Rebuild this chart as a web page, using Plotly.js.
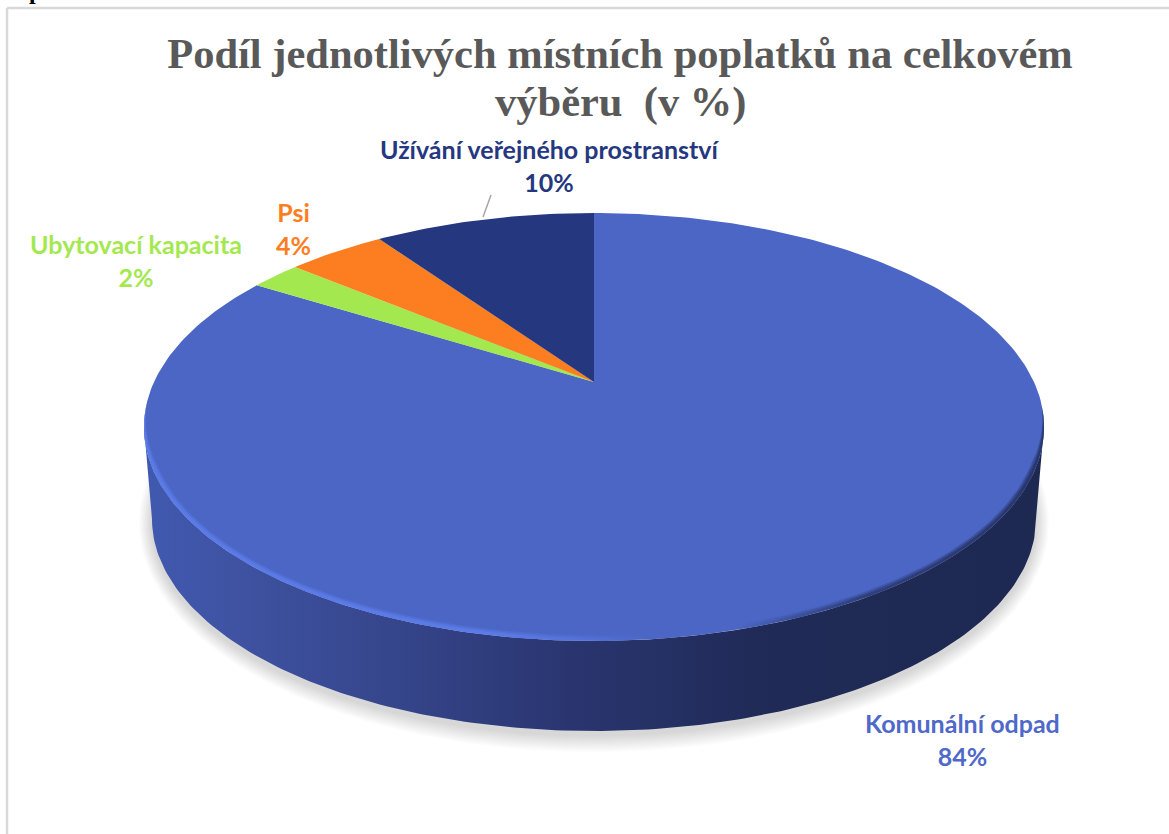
<!DOCTYPE html>
<html>
<head>
<meta charset="utf-8">
<script src="https://cdn.plot.ly/plotly-3.0.1.min.js"></script>
<style>
html,body{margin:0;padding:0;background:#fff;overflow:hidden}
#chart{width:1169px;height:834px}
</style>
</head>
<body>
<div id="chart"></div>
<script>
// ---- data (clockwise from 12 o'clock) ----
const categories = ["Komunální odpad", "Ubytovací kapacita", "Psi", "Užívání veřejného prostranství"];
const shares = [83.8, 2.2, 4.3, 9.7];
const sliceColors = ["#4B66C5", "#A4E850", "#FD7E21", "#25387F"];
const labelColors = ["#4F69C8", "#A4E850", "#FD7E21", "#25387F"];
const labelCenters = [[962, 739.5], [136, 260.5], [293, 228.5], [550, 165.5]];
const titleLines = ["Podíl jednotlivých místních poplatků na celkovém", "výběru  (v %)"];

// ---- 3D projection of the disc ----
const CX = 594, APEX_Y = 382, PERSP = 0.2103, AX = 440, AY = 204.5;
const project = (deg) => {
  const r = deg * Math.PI / 180, u = Math.sin(r), v = Math.cos(r), w = 1 + PERSP * v;
  return [CX + AX * u / w, APEX_Y - AY * v / w];
};
const ellipseArc = (cy, rx, ry, from, to, step) => {
  const pts = [], n = Math.max(1, Math.round(Math.abs(to - from) / step));
  for (let i = 0; i <= n; i++) {
    const t = (from + (to - from) * i / n) * Math.PI / 180;
    pts.push([CX + rx * Math.cos(t), cy + ry * Math.sin(t)]);
  }
  return pts;
};
const poly = (pts, extra) => Object.assign({
  type: "scatter", mode: "lines", x: pts.map(p => p[0]), y: pts.map(p => p[1]),
  fill: "toself", line: {width: 0}, hoverinfo: "skip", showlegend: false
}, extra);

const traces = [];

// soft ground shadow
for (let i = 10; i >= 1; i--) {
  traces.push(poly(ellipseArc(523, 442 + i * 1.3, 212 + i * 1.7, 0, 360, 2), {fillcolor: "rgba(0,0,0,0.014)"}));
}

// side wall with horizontal shading
const wall = ellipseArc(427, 450, 214, 180, 0, 1).concat(ellipseArc(519, 442, 212, 0, 180, 1));
traces.push(poly(wall, {
  fillgradient: {type: "horizontal", colorscale: [
    [0, "#4059B0"], [0.096, "#3F53A3"], [0.284, "#35458A"], [0.473, "#2A3570"],
    [0.695, "#1F2A56"], [1, "#1E2952"]
  ]}
}));

// pie slices on the top face
let acc = 0;
const total = shares.reduce((a, b) => a + b, 0);
shares.forEach((s, i) => {
  const a0 = acc / total * 360, a1 = (acc + s) / total * 360;
  acc += s;
  const pts = [[CX, APEX_Y]];
  const n = Math.max(2, Math.ceil(a1 - a0));
  for (let k = 0; k <= n; k++) pts.push(project(a0 + (a1 - a0) * k / n));
  pts.push([CX, APEX_Y]);
  traces.push(poly(pts, {fillcolor: sliceColors[i], name: categories[i]}));
});

// bevel: soft bright rim on the left, soft dark rim on the right, tapered at both ends
const rim = (inset) => {
  const outer = [], inner = [];
  for (let d = -6; d <= 186; d++) {
    const t = d * Math.PI / 180, c = Math.cos(t), s = Math.sin(t);
    const k = Math.min(1, Math.max(0, (s + 0.1) / 0.3));
    outer.push([CX + 450 * c, 427 + 214 * s]);
    inner.push([CX + (450 - inset * k) * c, 427 + (214 - inset * k) * s]);
  }
  return outer.concat(inner.reverse());
};
[[6, 0.3], [4.5, 0.4], [3, 0.5]].forEach(([w, al]) => {
  traces.push(poly(rim(w), {
    fillgradient: {type: "horizontal", colorscale: [
      [0, `rgba(95,128,240,${al})`], [0.38, `rgba(95,128,240,${al})`], [0.56, "rgba(95,128,240,0)"],
      [0.66, "rgba(30,42,85,0)"], [0.8, `rgba(30,42,85,${al * 0.7})`], [1, `rgba(30,42,85,${al})`]
    ]}
  }));
});

// leader line
traces.push({type: "scatter", mode: "lines", x: [491, 483], y: [195, 217],
  line: {color: "#A6A6A6", width: 1.5}, hoverinfo: "skip", showlegend: false});

const annotations = categories.map((c, i) => ({
  xref: "x", yref: "y", x: labelCenters[i][0], y: labelCenters[i][1],
  text: "<b>" + c + "</b><br><b>" + Math.round(shares[i]) + "%</b>",
  showarrow: false, xanchor: "center", yanchor: "middle", align: "center",
  font: {family: "Lato, Carlito, sans-serif", size: 25, color: labelColors[i]}
}));
// second title line, placed closer than plotly's fixed line height
annotations.push({xref: "x", yref: "y", x: 620, y: 102,
  text: "<b>" + titleLines[1] + "</b>", showarrow: false, xanchor: "center", yanchor: "middle",
  font: {family: "Liberation Serif", size: 42.5, color: "#595959"}});
// clipped heading fragment from the page above the chart
annotations.push({xref: "paper", yref: "paper", x: 35 / 1169, y: 1 + 9 / 834,
  text: "<b>p</b>", showarrow: false, xanchor: "center", yanchor: "middle",
  font: {family: "Liberation Serif", size: 24, color: "#000"}});

const layout = {
  width: 1169, height: 834, margin: {l: 0, r: 0, t: 0, b: 0},
  paper_bgcolor: "#fff", plot_bgcolor: "#fff", showlegend: false,
  title: {
    text: "<b>" + titleLines[0] + "</b>",
    x: 620 / 1169, xanchor: "center", y: 1 - 53 / 834, yanchor: "middle", yref: "container",
    font: {family: "Liberation Serif", size: 42.5, color: "#595959"}
  },
  xaxis: {range: [0, 1169], visible: false, fixedrange: true},
  yaxis: {range: [834, 0], visible: false, fixedrange: true},
  annotations,
  shapes: [
    {type: "line", xref: "x", yref: "y", x0: 7, x1: 1169, y0: 8, y1: 8, line: {color: "#D9D9D9", width: 2.5}},
    {type: "line", xref: "x", yref: "y", x0: 7, x1: 7, y0: 8, y1: 834, line: {color: "#D9D9D9", width: 2.5}}
  ]
};
Plotly.newPlot("chart", traces, layout, {displayModeBar: false, staticPlot: true});
</script>
</body>
</html>
